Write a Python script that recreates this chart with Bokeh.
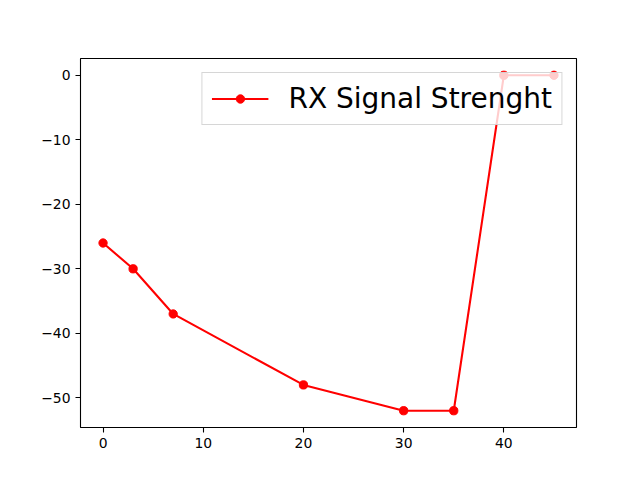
from bokeh.plotting import figure
from bokeh.models import Range1d, FixedTicker, Legend, LegendItem
from bokeh.embed import file_html
from bokeh.resources import INLINE

distance = [0, 3, 7, 20, 30, 35, 40, 45]
rx_signal = [-26, -30, -37, -48, -52, -52, 0, 0]
x_ticks = [0, 10, 20, 30, 40]
y_ticks = [-50, -40, -30, -20, -10, 0]
series_label = "RX Signal Strenght"

p = figure(width=624, height=464, output_backend="svg", toolbar_location=None,
           x_range=Range1d(-2.25, 47.25), y_range=Range1d(-54.6, 2.6),
           min_border_left=80, min_border_right=48, min_border_top=58, min_border_bottom=37)
p.background_fill_color = "white"
p.border_fill_color = "white"
p.xgrid.visible = False
p.ygrid.visible = False
p.outline_line_color = "black"
p.outline_line_width = 1.1

for ax in (p.xaxis[0], p.yaxis[0]):
    ax.axis_line_color = None
    ax.major_tick_in = 0
    ax.major_tick_out = 5
    ax.major_tick_line_width = 1.1
    ax.minor_tick_line_color = None
    ax.major_label_text_font = "DejaVu Sans"
    ax.major_label_text_font_size = "13.9px"
    ax.major_label_text_color = "black"
    ax.major_label_standoff = 5

p.xaxis.ticker = FixedTicker(ticks=x_ticks)
p.yaxis.ticker = FixedTicker(ticks=y_ticks)
p.yaxis.major_label_overrides = {t: str(t).replace("-", "\u2212") for t in y_ticks}

ln = p.line(distance, rx_signal, line_color="red", line_width=2.08)
sc = p.scatter(distance, rx_signal, size=8.3, fill_color="red", line_color="red")

legend = Legend(items=[LegendItem(label=series_label, renderers=[ln, sc])],
                location="top_right", margin=14, padding=9, spacing=0,
                glyph_width=57, glyph_height=21, label_height=30, label_standoff=20,
                label_text_font="DejaVu Sans", label_text_font_size="28px",
                label_text_color="black",
                background_fill_color="white", background_fill_alpha=0.8,
                border_line_color="#cccccc", border_line_alpha=0.8, border_line_width=1.1)
p.add_layout(legend)

open("out.html", "w").write(file_html(p, INLINE))
